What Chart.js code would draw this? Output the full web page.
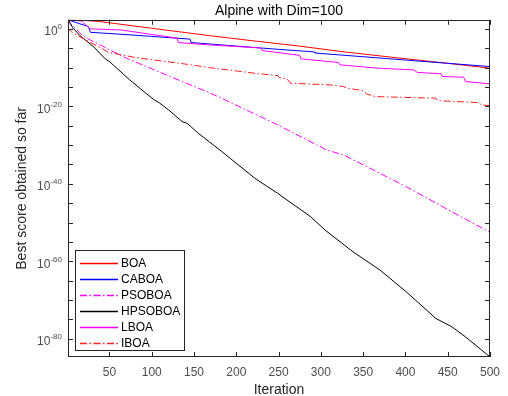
<!DOCTYPE html>
<html><head><meta charset="utf-8">
<script src="https://cdn.jsdelivr.net/npm/chart.js@4.4.0/dist/chart.umd.min.js"></script>
<style>html,body{margin:0;padding:0;background:#fff}canvas{display:block}</style>
</head><body>
<canvas id="c" width="508" height="396"></canvas>
<script>
// ---- data (iteration, log10 of best score) ----
const iterBOA = [1, 15, 38, 100, 167, 220, 272, 330, 389, 450, 500];
const logBOA  = [2.33, 2.25, 1.89, 0.15, -1.73, -3.1, -4.39, -6.02, -7.45, -8.9, -10.16];

const iterCABOA = [1, 15, 25, 27.5, 60, 100, 145.5, 146.5, 200, 250, 292, 293, 350, 400, 450, 500];
const logCABOA  = [2.33, 1.3, 0.6, -0.9, -1.35, -1.95, -2.66, -3.54, -4.45, -5.3, -5.95, -6.25, -7.2, -8.05, -8.9, -9.74];

const iterPSOBOA = [1, 5, 18, 27, 70, 122, 167, 187, 249, 307, 327, 362, 401, 451, 500];
const logPSOBOA  = [2.33, 1.0, -1.6, -2.84, -7.57, -12.33, -16.36, -18.35, -24.8, -31.27, -32.56, -36.43, -40.75, -46.77, -52.5];

const iterHPSOBOA = [1, 7, 15, 31, 45, 50, 74, 93, 103, 109, 120, 136, 142, 155, 183, 222, 237, 249, 260, 288, 305, 338, 370, 401, 436, 455, 471, 500];
const logHPSOBOA  = [2.33, 0.18, -1.73, -4.57, -7.75, -8.45, -13.18, -16.61, -18.35, -19.1, -20.93, -23.95, -24.4, -26.95, -31.7, -38.58, -40.75, -42.46, -44.19, -48.5, -51.94, -57.55, -62.27, -67.88, -74.75, -76.92, -79.5, -84.68];

const iterLBOA = [1, 17, 27, 64, 130, 131.5, 167, 229, 230.5, 275, 276.5, 321, 322.5, 367, 410, 414, 442, 443.5, 469, 471, 500];
const logLBOA  = [2.33, 2.0, 0.0, -0.3, -2.4, -3.55, -4.13, -4.95, -5.6, -6.85, -7.75, -8.7, -9.3, -10.15, -10.6, -11.25, -11.6, -12.3, -12.5, -13.6, -14.2];

const iterIBOA = [1, 4, 7, 46, 48, 81, 147, 155, 167, 190, 221, 249, 251, 260, 264, 311, 327, 331, 350, 354, 364, 436, 438, 486, 490, 500];
const logIBOA  = [0.3, -0.6, -1.11, -5.68, -6.02, -7.42, -9.3, -9.56, -10.0, -10.59, -11.45, -12.07, -12.58, -12.92, -14.03, -14.47, -14.91, -15.32, -15.94, -16.8, -17.49, -17.9, -18.53, -19.04, -19.64, -19.82];

const seriesNames = ['BOA', 'CABOA', 'PSOBOA', 'HPSOBOA', 'LBOA', 'IBOA'];
const seriesColors = ['rgb(255,0,0)', 'rgb(0,0,255)', 'rgb(255,0,255)', 'rgb(0,0,0)', 'rgb(255,0,255)', 'rgb(255,32,32)'];
const xTickValues = [50, 100, 150, 200, 250, 300, 350, 400, 450, 500];
const yTickExponents = [0, -5, -10, -15, -20, -25, -30, -35, -40, -45, -50, -55, -60, -65, -70, -75, -80];
const yLabelExponents = [0, -20, -40, -60, -80];
const yMinExp = -84.7, yMaxExp = 2.33;

// ---- helpers ----
const FONT = "'Liberation Sans', Arial, Helvetica, sans-serif";
Chart.defaults.font.family = FONT;
const toPts = (it, lg) => it.map((x, i) => ({x: x, y: Math.pow(10, lg[i])}));
const DASHDOT = [7, 2.5, 1.5, 2.5];
const seriesDash = [[], [], DASHDOT, [], [], DASHDOT];

const seriesData = [
  toPts(iterBOA, logBOA), toPts(iterCABOA, logCABOA), toPts(iterPSOBOA, logPSOBOA),
  toPts(iterHPSOBOA, logHPSOBOA), toPts(iterLBOA, logLBOA), toPts(iterIBOA, logIBOA)
];

const datasets = seriesNames.map((name, i) => ({
  label: name,
  data: seriesData[i],
  borderColor: seriesColors[i],
  backgroundColor: seriesColors[i],
  borderDash: seriesDash[i].slice(),
  borderWidth: 1,
  pointRadius: 0,
  tension: 0,
  fill: false,
  order: seriesNames.length - i
}));

function drawLegend(ctx, left, bottom) {
  const bx = Math.round(left) + 7, bw = 109, bh = 100;
  const by = Math.round(bottom) - 107;
  ctx.save();
  ctx.globalAlpha = 1;
  ctx.globalCompositeOperation = 'source-over';
  ctx.fillStyle = '#ffffff';
  ctx.fillRect(bx, by, bw, bh);
  ctx.lineWidth = 1;
  ctx.setLineDash([]);
  ctx.strokeStyle = '#262626';
  ctx.strokeRect(bx + 0.5, by + 0.5, bw, bh);
  for (let i = 0; i < seriesNames.length; i++) {
    const yy = by + 13 + i * 16;
    ctx.beginPath();
    ctx.setLineDash(seriesDash[i].slice());
    ctx.lineWidth = 1.3;
    ctx.strokeStyle = seriesColors[i];
    ctx.moveTo(bx + 5, yy + 0.5);
    ctx.lineTo(bx + 43, yy + 0.5);
    ctx.stroke();
    ctx.closePath();
  }
  ctx.setLineDash([]);
  ctx.font = '12px ' + FONT;
  ctx.textBaseline = 'middle';
  ctx.textAlign = 'left';
  ctx.fillStyle = '#000000';
  for (let i = 0; i < seriesNames.length; i++) {
    ctx.fillText(seriesNames[i], bx + 46, by + 14 + i * 16);
  }
  ctx.restore();
}

// box with inward ticks on all four sides, y tick labels, legend
const boxPlugin = {
  id: 'boxTicks',
  afterDatasetsDraw(chart) {
    const {ctx, chartArea: {left, right, top, bottom}, scales: {x, y}} = chart;
    const L = 5;
    ctx.save();
    ctx.strokeStyle = '#262626';
    ctx.lineWidth = 1;
    ctx.setLineDash([]);
    ctx.beginPath();
    x.ticks.forEach(t => {
      const px = Math.round(x.getPixelForValue(t.value)) + 0.5;
      ctx.moveTo(px, bottom); ctx.lineTo(px, bottom - L);
      ctx.moveTo(px, top); ctx.lineTo(px, top + L);
    });
    y.ticks.forEach(t => {
      const py = Math.round(y.getPixelForValue(t.value)) + 0.5;
      ctx.moveTo(left, py); ctx.lineTo(left + L, py);
      ctx.moveTo(right, py); ctx.lineTo(right - L, py);
    });
    ctx.stroke();
    ctx.strokeRect(Math.round(left) + 0.5, Math.round(top) + 0.5, Math.round(right - left) - 1, Math.round(bottom - top) - 1);

    ctx.fillStyle = '#4d4d4d';
    ctx.textAlign = 'left';
    ctx.textBaseline = 'alphabetic';
    yLabelExponents.forEach(e => {
      const py = y.getPixelForValue(Math.pow(10, e));
      const expStr = e === 0 ? '0' : '-' + Math.abs(e);
      ctx.font = '8px ' + FONT;
      const wExp = ctx.measureText(expStr).width;
      ctx.font = '12px ' + FONT;
      const wBase = ctx.measureText('10').width;
      const xr = left - 6;
      ctx.fillText('10', xr - wExp - wBase, py + 6.5);
      ctx.font = '8px ' + FONT;
      ctx.fillText(expStr, xr - wExp, py + 0.5);
    });
    ctx.restore();
    drawLegend(ctx, left, bottom);
  }
};

new Chart(document.getElementById('c'), {
  type: 'line',
  data: {datasets: datasets},
  plugins: [boxPlugin],
  options: {
    responsive: false,
    animation: false,
    devicePixelRatio: 1,
    layout: {padding: {left: 0, right: 13, top: 0, bottom: 0}},
    plugins: {
      legend: {display: false},
      tooltip: {enabled: false},
      title: {
        display: true, text: 'Alpine with Dim=100', fullSize: false,
        color: '#000000', font: {size: 14, weight: 'normal', family: FONT},
        padding: {top: 3, bottom: 0}
      }
    },
    scales: {
      x: {
        type: 'linear', min: 1, max: 500,
        afterBuildTicks: s => { s.ticks = xTickValues.map(v => ({value: v})); },
        afterFit: s => { s.height = 39; },
        grid: {display: false, drawTicks: false},
        border: {display: false},
        ticks: {color: '#4d4d4d', font: {size: 12, family: FONT}, padding: 8, maxRotation: 0, autoSkip: false},
        title: {display: true, text: 'Iteration', color: '#262626', font: {size: 14, family: FONT}, padding: {top: 0, bottom: -3}}
      },
      y: {
        type: 'logarithmic',
        min: Math.pow(10, yMinExp), max: Math.pow(10, yMaxExp),
        afterBuildTicks: s => { s.ticks = yTickExponents.map(e => ({value: Math.pow(10, e)})); },
        afterFit: s => { s.width = 68; },
        grid: {display: false, drawTicks: false},
        border: {display: false},
        ticks: {display: false},
        title: {display: true, text: 'Best score obtained so far', color: '#262626', font: {size: 14, family: FONT}, padding: {top: 14, bottom: 0}}
      }
    }
  }
});
</script>
</body></html>
